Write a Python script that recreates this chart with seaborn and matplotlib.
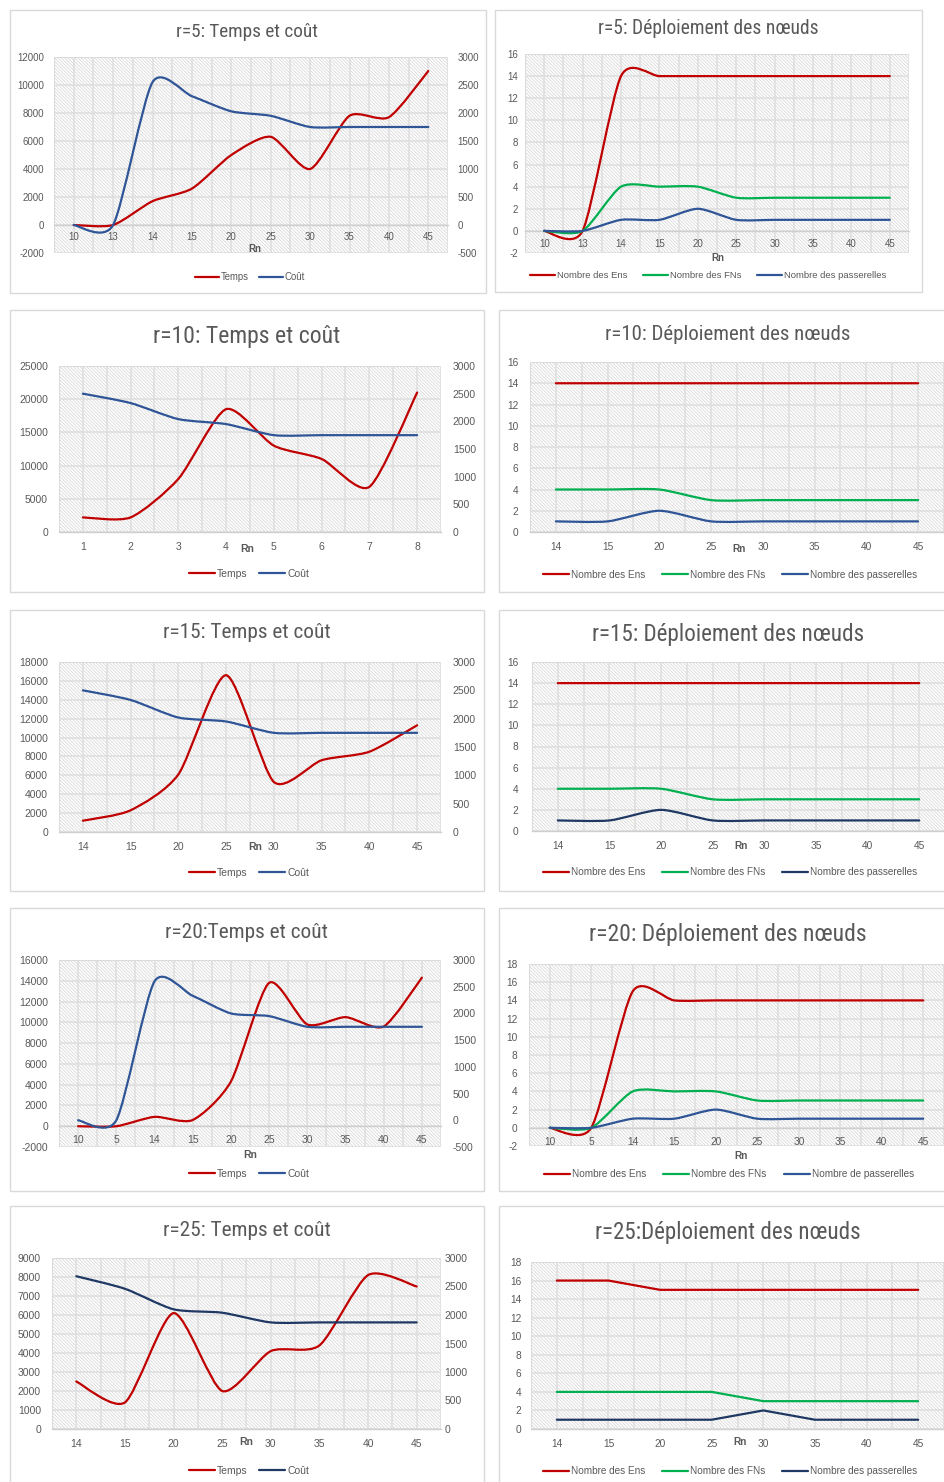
import numpy as np
import matplotlib
matplotlib.use("Agg")
import matplotlib.pyplot as plt
import matplotlib.font_manager as fm
import seaborn as sns
from matplotlib.path import Path
from matplotlib.patches import PathPatch, Rectangle
from matplotlib.lines import Line2D

sns.set_theme(style="white")
plt.rcParams["font.family"] = ["Liberation Sans", "DejaVu Sans"]
plt.rcParams["axes.unicode_minus"] = False
plt.rcParams["hatch.linewidth"] = 0.5

# ---------------- data ----------------
rn_r5 = ["10", "13", "14", "15", "20", "25", "30", "35", "40", "45"]
temps_r5 = [0, 0, 1700, 2600, 5000, 6300, 4000, 7800, 7700, 11000]
cout_r5 = [0, 0, 2550, 2300, 2030, 1950, 1750, 1750, 1750, 1750]
ens_r5 = [0, 0, 14, 14, 14, 14, 14, 14, 14, 14]
fns_r5 = [0, 0, 4, 4, 4, 3, 3, 3, 3, 3]
pass_r5 = [0, 0, 1, 1, 2, 1, 1, 1, 1, 1]

rn_r10_tc = ["1", "2", "3", "4", "5", "6", "7", "8"]
temps_r10 = [2200, 2200, 8000, 18500, 13000, 11000, 6800, 21000]
cout_r10 = [2500, 2330, 2040, 1950, 1750, 1750, 1750, 1750]
rn_r10 = ["14", "15", "20", "25", "30", "35", "40", "45"]
ens_r10 = [14, 14, 14, 14, 14, 14, 14, 14]
fns_r10 = [4, 4, 4, 3, 3, 3, 3, 3]
pass_r10 = [1, 1, 2, 1, 1, 1, 1, 1]

rn_r15 = ["14", "15", "20", "25", "30", "35", "40", "45"]
temps_r15 = [1200, 2300, 6100, 16600, 5300, 7600, 8500, 11300]
cout_r15 = [2500, 2330, 2020, 1950, 1750, 1750, 1750, 1750]
ens_r15 = [14, 14, 14, 14, 14, 14, 14, 14]
fns_r15 = [4, 4, 4, 3, 3, 3, 3, 3]
pass_r15 = [1, 1, 2, 1, 1, 1, 1, 1]

rn_r20 = ["10", "5", "14", "15", "20", "25", "30", "35", "40", "45"]
temps_r20 = [0, 0, 900, 600, 4300, 13800, 9800, 10500, 9600, 14300]
cout_r20 = [0, 0, 2600, 2330, 2000, 1950, 1750, 1750, 1750, 1750]
ens_r20 = [0, 0, 15, 14, 14, 14, 14, 14, 14, 14]
fns_r20 = [0, 0, 4, 4, 4, 3, 3, 3, 3, 3]
pass_r20 = [0, 0, 1, 1, 2, 1, 1, 1, 1, 1]

rn_r25 = ["14", "15", "20", "25", "30", "35", "40", "45"]
temps_r25 = [2500, 1400, 6100, 2000, 4100, 4400, 8100, 7500]
cout_r25 = [2680, 2460, 2100, 2040, 1870, 1870, 1870, 1870]
ens_r25 = [16, 16, 15, 15, 15, 15, 15, 15]
fns_r25 = [4, 4, 4, 4, 3, 3, 3, 3]
pass_r25 = [1, 1, 1, 1, 2, 1, 1, 1]

# ---------------- style ----------------
W, H = 945, 1482
TXT = "#595959"
GRID = "#dedede"
HATCH = "#d2d2d2"
RED = "#C00000"
GREEN = "#00B050"
BLUE = "#2F5597"
NAVY = "#1F3864"
LW = 1.6
SMOOTH_K = 0.72  # tangent scale of the smoothed curves

# narrow face for the chart titles, if one is installed
_names = {f.name for f in fm.fontManager.ttflist}
_condensed = [f for f in fm.fontManager.ttflist
              if f.name.startswith(("DejaVu Sans", "Liberation Sans"))
              and str(f.stretch) in ("condensed", "semi-condensed", "75", "87")
              and f.weight in (400, "normal", "regular") and f.style == "normal"]
TITLE_KW = {}
for cand in ["Liberation Sans Narrow", "DejaVu Sans Condensed", "Roboto Condensed"]:
    if cand in _names:
        TITLE_KW = dict(family=[cand, "DejaVu Sans"])
        break
else:
    if _condensed:
        TITLE_KW = dict(fontproperties=fm.FontProperties(fname=_condensed[0].fname))
    else:
        TITLE_KW = dict(family=["Lato", "Liberation Sans", "DejaVu Sans"])

fig = plt.figure(figsize=(W / 100, H / 100), dpi=100)
renderer = fig.canvas.get_renderer()


def frame(x0, y0, x1, y1):
    fig.add_artist(Rectangle((x0 / W, 1 - y1 / H), (x1 - x0) / W, (y1 - y0) / H,
                             transform=fig.transFigure, fc="white",
                             ec="#d9d9d9", lw=1.0, zorder=-5))


def axes_px(x0, y0, x1, y1):
    return fig.add_axes([x0 / W, 1 - y1 / H, (x1 - x0) / W, (y1 - y0) / H])


def title(text, cx, cy, width):
    t = fig.text(cx / W, 1 - cy / H, text, ha="center", va="center",
                 color=TXT, **TITLE_KW)
    t.set_fontsize(12)
    w = t.get_window_extent(renderer).width
    t.set_fontsize(12 * width / w)


def smooth_path(xs, ys):
    """Cubic Bezier path through the points (cardinal-spline tangents)."""
    P = np.column_stack([xs, ys]).astype(float)
    ext = np.vstack([P[0], P, P[-1]])
    tang = (ext[2:] - ext[:-2]) / 2.0 * SMOOTH_K
    verts = [P[0]]
    codes = [Path.MOVETO]
    for i in range(len(P) - 1):
        verts += [P[i] + tang[i] / 3, P[i + 1] - tang[i + 1] / 3, P[i + 1]]
        codes += [Path.CURVE4] * 3
    return Path(verts, codes)


def smooth_line(ax, values, color):
    x = np.arange(len(values))
    ax.add_patch(PathPatch(smooth_path(x, values), fill=False, ec=color,
                           lw=LW, capstyle="round", joinstyle="round", zorder=3))


def base_style(ax, cats, ylim, ystep, zero_axis, cat_ticks, xpad, ypad, fs):
    n = len(cats)
    ax.set_xlim(-0.5, n - 0.5)
    ax.set_ylim(*ylim)
    ax.set_xticks(np.arange(n))
    ax.set_xticklabels(cats)
    ax.set_xticks(np.arange(n + 1) - 0.5, minor=True)
    yt = np.arange(ylim[0], ylim[1] + ystep / 2, ystep)
    ax.set_yticks(yt)
    ax.set_yticklabels([f"{int(v)}" for v in yt])
    ax.add_patch(Rectangle((0, 0), 1, 1, transform=ax.transAxes, fc="white",
                           ec=HATCH, lw=0.8, hatch="\\" * 10, zorder=0.1))
    ax.set_axisbelow(True)
    ax.grid(True, which="major", color=GRID, lw=1.1)
    ax.grid(True, which="minor", axis="x", color=GRID, lw=1.1)
    for s in ("top", "left", "right"):
        ax.spines[s].set_visible(False)
    ax.spines["bottom"].set_color("#cfcfcf")
    ax.spines["bottom"].set_linewidth(1.0)
    ax.spines["bottom"].set_zorder(0.6)
    if zero_axis:
        ax.spines["bottom"].set_position(("data", 0))
    ax.tick_params(axis="x", which="major", length=0, pad=xpad,
                   labelsize=fs, labelcolor=TXT)
    ax.tick_params(axis="x", which="minor", length=4 if cat_ticks else 0,
                   width=0.8, color="#cfcfcf")
    ax.tick_params(axis="y", length=0, pad=ypad, labelsize=fs, labelcolor=TXT)
    ax.set_xlabel("")
    ax.set_ylabel("")


def rn_label(ax, fx, fy, fs):
    ax.text(fx, fy, "Rn", transform=ax.transAxes, ha="center", va="center",
            fontsize=fs, color=TXT, fontweight="bold")


def legend(handles, labels, cx, cy, fs, hl, cs):
    fig.legend(handles=handles, labels=labels, loc="center",
               bbox_to_anchor=(cx / W, 1 - cy / H), bbox_transform=fig.transFigure,
               ncol=len(labels), frameon=False, fontsize=fs, handlelength=hl,
               handletextpad=0.2, columnspacing=cs, labelcolor=TXT,
               borderaxespad=0, borderpad=0)


def temps_cout(axbox, cats, temps, cout, cout_color, lim_l, step_l, lim_r, step_r,
               zero_axis, cat_ticks, xpad, ypad_l, ypad_r, fs, rn, leg, lfs):
    ax = axes_px(*axbox)
    base_style(ax, cats, lim_l, step_l, zero_axis, cat_ticks, xpad, ypad_l, fs)
    ax2 = ax.twinx()
    ax2.set_ylim(*lim_r)
    yt = np.arange(lim_r[0], lim_r[1] + step_r / 2, step_r)
    ax2.set_yticks(yt)
    ax2.set_yticklabels([f"{int(v)}" for v in yt])
    ax2.grid(False)
    for s in ax2.spines.values():
        s.set_visible(False)
    ax2.tick_params(axis="y", length=0, pad=ypad_r, labelsize=fs, labelcolor=TXT)
    smooth_line(ax, temps, RED)
    smooth_line(ax2, cout, cout_color)
    rn_label(ax, rn[0], rn[1], fs)
    handles = [Line2D([], [], color=RED, lw=LW), Line2D([], [], color=cout_color, lw=LW)]
    legend(handles, ["Temps", "Coût"], leg[0], leg[1], lfs, 2.5, 1.1)


def deploiement(axbox, cats, ens, fns, pas, pass_color, ylim, zero_axis, cat_ticks,
                xpad, ypad, fs, rn, leg, lfs, pass_label="Nombre des passerelles",
                smooth=True):
    ax = axes_px(*axbox)
    base_style(ax, cats, ylim, 2, zero_axis, cat_ticks, xpad, ypad, fs)
    series = [(ens, RED), (fns, GREEN), (pas, pass_color)]
    if smooth:
        for vals, col in series:
            smooth_line(ax, vals, col)
    else:
        x = np.arange(len(cats))
        for vals, col in series:
            sns.lineplot(x=x, y=vals, ax=ax, color=col, linewidth=LW, zorder=3,
                         legend=False)
        ax.set_xlabel("")
        ax.set_ylabel("")
    rn_label(ax, rn[0], rn[1], fs)
    handles = [Line2D([], [], color=c, lw=LW) for _, c in series]
    legend(handles, ["Nombre des Ens", "Nombre des FNs", pass_label],
           leg[0], leg[1], lfs, 2.6, 1.7)


# panel frames
frame(10, 10, 486, 293)
frame(495, 10, 922, 292)
frame(10, 310, 484, 592)
frame(499, 310, 950, 592)
frame(10, 610, 484, 891)
frame(499, 610, 950, 891)
frame(10, 908, 484, 1191)
frame(499, 908, 950, 1191)
frame(10, 1206, 484, 1490)
frame(499, 1206, 950, 1490)

# r = 5
temps_cout((54, 57, 448, 253), rn_r5, temps_r5, cout_r5, BLUE,
           (-2000, 12000), 2000, (-500, 3000), 500, True, False,
           5.0, 7, 7, 7.0, (0.51, 0.02), (250, 277), 6.9)
title("r=5: Temps et coût", 247, 32, 142)
deploiement((525, 54, 909, 253), rn_r5, ens_r5, fns_r5, pass_r5, BLUE,
            (-2, 16), True, False, 6.0, 5, 7.0, (0.503, -0.025), (708, 276), 6.8)
title("r=5: Déploiement des nœuds", 708, 29, 220)

# r = 10
temps_cout((59, 366, 441, 532), rn_r10_tc, temps_r10, cout_r10, BLUE,
           (0, 25000), 5000, (0, 3000), 500, False, True,
           7.0, 8, 8.5, 7.5, (0.493, -0.10), (249, 574), 7.5)
title("r=10: Temps et coût", 247, 336, 187)
deploiement((530, 362, 944, 532), rn_r10, ens_r10, fns_r10, pass_r10, BLUE,
            (0, 16), False, True, 7.0, 8.5, 7.3, (0.504, -0.10), (730, 575), 7.2)
title("r=10: Déploiement des nœuds", 728, 334, 245)

# r = 15
temps_cout((59, 662, 441, 832), rn_r15, temps_r15, cout_r15, BLUE,
           (0, 18000), 2000, (0, 3000), 500, False, True,
           7.0, 8, 8.5, 7.5, (0.514, -0.088), (249, 873), 7.5)
title("r=15: Temps et coût", 247, 633, 167)
deploiement((532, 662, 945, 831), rn_r15, ens_r15, fns_r15, pass_r15, NAVY,
            (0, 16), False, True, 7.0, 10, 7.3, (0.505, -0.09), (730, 872), 7.2)
title("r=15: Déploiement des nœuds", 728, 635, 272)

# r = 20
temps_cout((59, 960, 441, 1147), rn_r20, temps_r20, cout_r20, BLUE,
           (-2000, 16000), 2000, (-500, 3000), 500, True, False,
           6.5, 8, 8.5, 7.5, (0.5, -0.043), (249, 1174), 7.5)
title("r=20:Temps et coût", 247, 933, 162)
deploiement((529, 964, 944, 1146), rn_r20, ens_r20, fns_r20, pass_r20, BLUE,
            (-2, 18), True, False, 6.5, 8.5, 7.3, (0.51, -0.055), (729, 1174), 7.2,
            pass_label="Nombre de passerelles")
title("r=20: Déploiement des nœuds", 728, 935, 277)

# r = 25
temps_cout((52, 1258, 441, 1429), rn_r25, temps_r25, cout_r25, NAVY,
           (0, 9000), 1000, (0, 3000), 500, False, True,
           7.0, 8, 2.5, 7.5, (0.5, -0.076), (249, 1471), 7.5)
title("r=25: Temps et coût", 247, 1231, 167)
deploiement((531, 1262, 944, 1429), rn_r25, ens_r25, fns_r25, pass_r25, NAVY,
            (0, 18), False, True, 7.0, 7, 7.3, (0.507, -0.078), (730, 1471), 7.2,
            smooth=False)
title("r=25:Déploiement des nœuds", 728, 1232, 265)

fig.savefig("out.png", dpi=100)
